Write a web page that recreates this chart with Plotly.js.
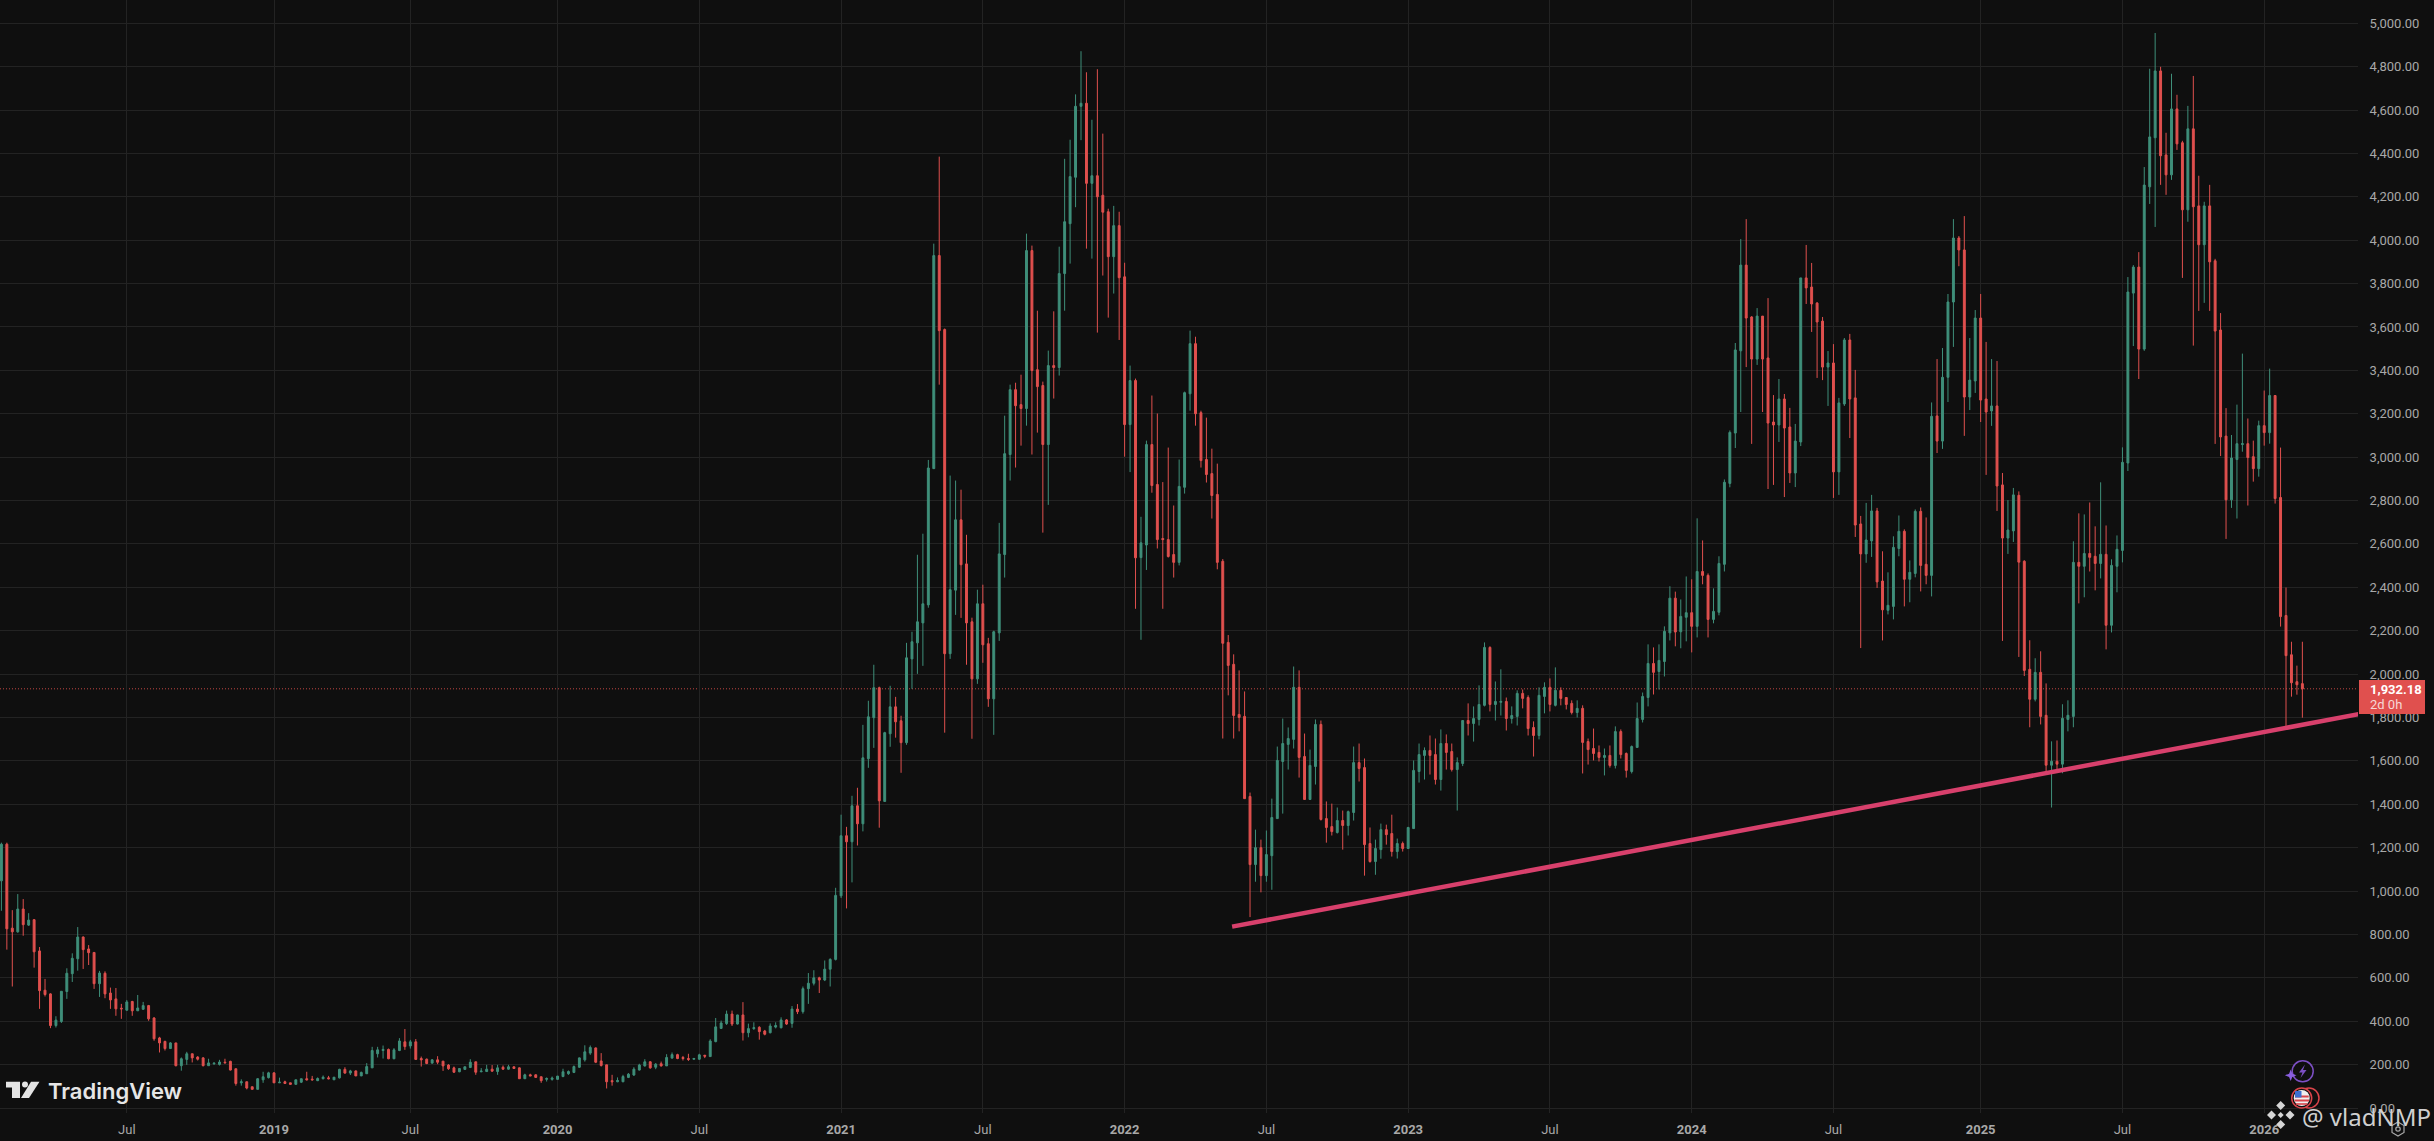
<!DOCTYPE html>
<html>
<head>
<meta charset="utf-8">
<script src="https://cdn.plot.ly/plotly-3.0.1.min.js"></script>
<style>html,body{margin:0;padding:0;background:#0f0f0f;overflow:hidden}#chart{width:2434px;height:1141px}</style>
</head>
<body>
<div id="chart"></div>
<script>
const firstWeek = '2018-01-22';
const openPrice = [
1047,1216,829,812,917,843,868,724,543,526,
380,399,537,619,688,788,733,717,573,621,
530,503,460,451,491,448,455,472,415,323,
307,274,300,195,224,250,235,231,195,204,
201,211,215,181,116,121,98,86,130,140,
162,116,121,116,109,119,135,133,126,135,
139,130,139,178,161,171,148,158,185,250,
265,270,227,265,305,286,305,228,225,207,
222,216,198,185,167,178,187,213,167,168,
179,168,188,179,190,185,135,153,153,144,
132,132,132,145,158,164,188,222,253,277,
217,199,126,121,121,141,152,175,194,213,
188,204,194,230,246,233,228,225,225,243,
237,306,367,389,433,387,429,347,366,372,
355,347,373,370,406,390,456,444,550,575,
600,590,640,685,978,1255,1227,1393,1310,1610,
1799,1937,1413,1725,1849,1785,1684,2070,2144,2236,
2319,2947,3929,3588,2094,2387,2711,2508,2241,1978,
2324,2140,1886,2190,2551,3012,3311,3242,3224,3952,
3403,3330,3058,3422,3413,3846,4076,4290,4617,4631,
4262,4297,4207,4131,3924,4067,3831,3150,3353,2537,
2595,3058,2874,2625,2620,2551,2515,2861,3292,3523,
3205,2989,2924,2828,2520,2146,2045,1814,1805,1436,
1122,1200,1071,1163,1334,1597,1676,1699,1939,1620,
1422,1574,1768,1334,1297,1270,1325,1302,1362,1592,
1569,1219,1136,1191,1283,1265,1182,1219,1196,1288,
1551,1625,1648,1629,1514,1680,1643,1560,1588,1786,
1772,1791,1856,2123,1860,1870,1874,1795,1805,1911,
1892,1754,1717,1897,1939,1856,1925,1892,1865,1823,
1842,1689,1657,1639,1616,1625,1579,1735,1634,1551,
1662,1791,1892,2049,2012,2058,2190,2350,2195,2262,
2283,2220,2473,2455,2252,2285,2506,2879,3111,3490,
3885,3646,3452,3650,3457,3162,3148,3268,3139,2927,
3070,3826,3784,3710,3627,3415,3434,2932,3245,3540,
3273,2692,2554,2614,2752,2429,2294,2312,2579,2658,
2437,2464,2750,2506,2455,3190,3074,3368,3715,4010,
3955,3277,3351,3641,3268,3213,3236,2872,2627,2660,
2824,2520,2022,1884,2008,1810,1580,1598,1585,1791,
1805,2515,2497,2556,2543,2510,2552,2225,2497,2570,
2973,3756,3876,3498,4246,4472,4780,4393,4301,4605,
4449,4140,4513,4158,3979,4158,3905,3586,3097,2803,
2989,3058,3062,3002,2947,3145,3113,3284,2814,2270,2089,1965,1956];
const highPrice = [
1223,1223,912,986,963,898,871,742,595,529,
423,538,644,713,834,791,751,717,632,630,
555,553,480,498,494,521,489,475,419,328,
310,304,300,233,259,250,239,235,227,208,
222,227,218,181,132,121,98,138,167,167,
164,140,126,116,130,135,167,148,141,150,
148,143,181,188,176,173,168,207,282,282,
288,274,276,322,364,314,318,237,228,225,
239,216,202,191,182,191,225,213,184,199,
198,199,196,199,191,187,158,158,155,145,
141,145,148,181,173,196,233,289,288,279,
253,199,153,141,153,161,188,204,225,216,
207,214,248,256,250,240,250,231,250,245,
317,415,403,449,449,430,488,389,395,377,
360,390,395,418,410,470,479,560,622,635,
605,680,690,1015,1352,1296,1439,1476,1766,1877,
2043,1942,1734,1946,1895,1808,2144,2195,2550,2647,
2987,3984,4385,3593,2915,2892,2850,2642,2260,2389,
2412,2167,2200,2697,3191,3334,3343,3380,4030,3975,
3675,3348,3491,3672,3970,4375,4463,4672,4871,4774,
4555,4788,4491,4145,4158,4131,3896,3422,3362,2725,
3076,3284,3201,2885,3044,2777,2989,3302,3583,3555,
3214,3182,3039,2970,2530,2180,2091,2017,1920,1454,
1283,1237,1279,1426,1666,1795,1754,2035,2017,1726,
1652,1791,1786,1413,1403,1385,1371,1371,1666,1680,
1611,1293,1237,1311,1306,1352,1242,1228,1296,1602,
1680,1662,1717,1703,1745,1722,1680,1616,1786,1865,
1851,1948,2146,2128,1966,2022,1892,1851,1925,1929,
1902,1782,1939,1962,1980,2031,1939,1892,1879,1879,
1856,1703,1749,1671,1657,1671,1759,1745,1639,1671,
1869,1915,2137,2123,2137,2220,2405,2380,2344,2450,
2437,2718,2616,2464,2395,2543,2897,3123,3526,4005,
4097,3650,3687,3650,3733,3286,3360,3291,3227,3153,
3826,3978,3895,3715,3646,3489,3521,3273,3549,3568,
3402,2729,2789,2826,2766,2566,2469,2635,2731,2667,
2524,2759,2768,2722,3252,3452,3503,3752,4097,4019,
4111,3549,3678,3752,3531,3452,3443,2927,2802,2858,
2842,2525,2156,2073,2105,1957,1690,1694,1861,1879,
2612,2741,2736,2791,2681,2884,2685,2529,2639,3045,
3830,3885,3945,4337,4790,4955,4799,4495,4767,4670,
4458,4619,4757,4297,4177,4255,3914,3664,3226,3102,
3242,3477,3178,3076,3168,3307,3408,3284,3044,2399,2149,2039,2149];
const lowPrice = [
909,730,560,808,794,839,647,457,514,368,
371,392,503,581,633,641,659,549,512,506,
457,425,411,448,425,448,452,402,310,256,
265,273,192,172,199,210,219,192,195,199,
196,208,173,103,103,86,86,86,116,136,
116,116,113,109,109,115,127,126,124,132,
132,130,136,158,152,147,147,158,185,233,
228,225,225,262,268,274,222,191,202,204,
202,171,176,162,165,176,184,153,165,168,
167,153,176,176,181,135,135,147,139,116,
122,126,130,142,153,161,185,214,245,207,
191,90,103,119,119,138,148,173,191,181,
179,191,194,227,225,219,217,222,222,230,
237,303,364,383,378,385,311,326,360,315,
335,344,367,367,383,370,433,435,480,565,
530,585,560,680,968,920,1040,1210,1275,1568,
1660,1292,1413,1665,1707,1545,1674,1932,2001,2038,
2306,2947,3334,1730,2070,2273,2259,2043,1702,1955,
2052,1849,1720,2153,2445,2892,2952,3053,3145,3012,
3113,2652,2780,3270,3376,3675,3892,4152,4461,3961,
3915,3574,3837,3643,3754,3540,3002,2931,2301,2158,
2480,2836,2579,2301,2537,2445,2501,2832,3214,3145,
2952,2883,2717,2483,1703,1902,1703,1736,1426,880,
1043,994,1043,1006,1334,1357,1560,1657,1523,1422,
1422,1491,1325,1223,1256,1265,1191,1256,1325,1505,
1071,1131,1075,1149,1214,1159,1150,1182,1196,1288,
1500,1514,1537,1491,1463,1560,1551,1371,1576,1717,
1689,1763,1851,1828,1786,1809,1740,1772,1763,1842,
1717,1620,1699,1819,1828,1851,1856,1837,1814,1800,
1542,1583,1602,1597,1533,1569,1565,1611,1523,1542,
1662,1777,1851,1906,1929,1989,2155,2128,2119,2151,
2100,2169,2414,2169,2234,2271,2473,2861,3042,3208,
3415,3061,3425,3208,2853,2872,3070,2816,2881,2862,
3051,3706,3577,3365,3355,3236,2812,2826,3236,3088,
2632,2120,2513,2540,2397,2155,2275,2252,2543,2312,
2331,2446,2381,2414,2358,3019,3038,3254,3508,3880,
3098,3217,3296,3162,2918,3144,2752,2153,2554,2609,
2079,1991,1755,1874,1768,1546,1385,1555,1543,1736,
1755,2326,2354,2473,2386,2441,2114,2192,2377,2515,
2936,3512,3360,3490,4167,4061,4255,4209,4278,4416,
3826,4085,3514,3674,3711,3674,3061,3005,2623,2766,
2717,3025,2777,2887,2910,3053,3062,2786,2219,1751,1896,1905,1799];
const closePrice = [
1216,826,812,917,845,866,720,541,523,380,
405,538,621,690,788,730,716,573,622,526,
498,457,457,489,448,461,472,411,319,300,
274,300,195,227,250,231,225,195,208,207,
212,208,175,113,121,92,86,135,144,162,
116,119,113,109,130,135,130,130,136,142,
135,142,178,161,171,148,164,191,265,268,
270,227,268,309,283,305,224,222,205,222,
211,194,181,165,182,190,211,165,170,179,
170,185,179,190,182,135,153,148,141,126,
136,138,147,167,168,191,231,259,279,211,
196,121,121,127,145,156,179,198,213,185,
202,194,233,246,228,228,224,228,245,239,
309,374,392,433,387,429,347,366,370,352,
340,378,380,406,387,456,444,550,575,600,
590,640,685,980,1255,1227,1393,1310,1614,1803,
1937,1416,1730,1849,1780,1684,2075,2149,2241,2324,
2950,3929,3583,2094,2389,2711,2504,2236,1978,2324,
2135,1886,2195,2554,3016,3311,3237,3224,3952,3399,
3325,3058,3422,3413,3846,4085,4293,4617,4631,4262,
4297,4200,4129,3924,4067,3827,3150,3353,2536,2605,
3058,2869,2620,2620,2542,2515,2865,3297,3523,3200,
2984,2920,2823,2515,2142,2040,1809,1800,1426,1122,
1200,1071,1168,1339,1602,1680,1703,1939,1616,1422,
1579,1768,1330,1293,1274,1325,1302,1366,1592,1565,
1214,1136,1196,1283,1260,1182,1219,1196,1293,1556,
1629,1648,1625,1514,1680,1639,1560,1592,1786,1772,
1795,1860,2123,1860,1874,1874,1795,1809,1911,1888,
1749,1717,1902,1939,1860,1925,1888,1860,1823,1842,
1685,1652,1634,1616,1625,1579,1735,1629,1556,1666,
1795,1897,2049,2008,2063,2197,2350,2194,2266,2283,
2220,2473,2455,2252,2289,2510,2884,3114,3494,3885,
3641,3452,3650,3452,3157,3148,3268,3134,2927,3074,
3826,3780,3706,3623,3415,3434,2932,3250,3540,3268,
2687,2554,2618,2752,2425,2296,2317,2584,2658,2437,
2469,2750,2501,2455,3188,3074,3368,3715,4010,3955,
3277,3355,3641,3263,3208,3236,2867,2627,2664,2826,
2516,2017,1884,2008,1805,1580,1598,1585,1796,1810,
2515,2497,2556,2538,2510,2552,2225,2501,2575,2976,
3761,3876,3498,4254,4476,4780,4389,4301,4605,4444,
4140,4513,4154,3979,4158,3900,3581,3093,2803,2996,
3062,3062,2998,2947,3145,3113,3284,2809,2265,2085,1960,1951,1932.18];
const trendDates = ['2022-05-21','2026-05-06'];
const trendPrices = [836,1815];
const xTickDates = ['2018-07-02','2019-01-07','2019-07-01','2020-01-06','2020-07-06','2021-01-04','2021-07-05','2022-01-03','2022-07-04','2023-01-02','2023-07-03','2024-01-01','2024-07-01','2025-01-06','2025-07-07','2026-01-05'];
const xTickLabels = ['Jul','<b>2019</b>','Jul','<b>2020</b>','Jul','<b>2021</b>','Jul','<b>2022</b>','Jul','<b>2023</b>','Jul','<b>2024</b>','Jul','<b>2025</b>','Jul','<b>2026</b>'];
const yTicks = [0,200,400,600,800,1000,1200,1400,1600,1800,2000,2200,2400,2600,2800,3000,3200,3400,3600,3800,4000,4200,4400,4600,4800,5000];

const weekDates = closePrice.map((_, k) => new Date(Date.parse(firstWeek) + k * 7 * 864e5).toISOString().slice(0, 10));
const lastPrice = closePrice[closePrice.length - 1];

const W = 2358, H = 1113;
const px = x => x / W, py = y => 1 - y / H;
const UP = '#3f8f7a', DOWN = '#e0504e', BG = '#0f0f0f';

const box = (x0, y0, x1, y1, fill, line) => ({type:'rect', xref:'paper', yref:'paper', x0:px(x0), x1:px(x1), y0:py(y0), y1:py(y1), fillcolor:fill, line:line||{width:0}});
const ring = (cx, cy, r, fill, color, w) => ({type:'circle', xref:'paper', yref:'paper', x0:px(cx-r), x1:px(cx+r), y0:py(cy-r), y1:py(cy+r), fillcolor:fill, line:{color:color, width:w}});
const poly = (pts, fill, color, w) => ({type:'path', xref:'paper', yref:'paper',
  path:'M'+pts.map(p => px(p[0])+','+py(p[1])).join(' L')+' Z', fillcolor:fill, line: color ? {color:color, width:w} : {width:0}});

const diamond = (cx, cy, r, fill) => poly([[cx,cy-r],[cx+r,cy],[cx,cy+r],[cx-r,cy]], fill);

const shapes = [
  {type:'line', layer:'below', xref:'paper', yref:'y', x0:0, x1:1, y0:lastPrice, y1:lastPrice, opacity:0.85, line:{color:DOWN, width:1, dash:'1px,2px'}},
  // price label
  box(2359, 680, 2425, 714, '#e0504e'),
  // TradingView logo
  poly([[6,1081.7],[20,1081.7],[20,1098],[12,1098],[12,1087.5],[6,1087.5]], '#e4e4e4'),
  ring(25,1084.5,3,'#e4e4e4','#e4e4e4',0),
  poly([[31,1081.7],[39.5,1081.7],[29,1098],[21,1098]], '#e4e4e4'),
  // bolt badge
  ring(2302.7,1071.3,10.5,BG,'#7c4fc4',1.5),
  poly([[2305,1064.5],[2299,1072.5],[2302.5,1072.5],[2300.5,1078],[2306.5,1070],[2303,1070]], '#7c4fc4'),
  poly([[2290.7,1069.5],[2292.3,1073.7],[2296.5,1075.3],[2292.3,1076.9],[2290.7,1081],[2289.1,1076.9],[2284.9,1075.3],[2289.1,1073.7]], '#8a5fe0'),
  // flag badge
  ring(2309,1098,10,BG,'#d9444a',1.5),
  ring(2301.7,1098,10,BG,'#d9444a',1.5),
  ring(2301.7,1098,8,'#efefef','#efefef',0),
  box(2295,1095.5,2308.7,1097.5,'#d9444a'),
  box(2294.5,1099.5,2309,1101.5,'#d9444a'),
  box(2296,1103.2,2307.4,1104.8,'#d9444a'),
  box(2295,1091,2301.5,1097.5,'#3d6fd0'),
  // Binance logo
  diamond(2280.7,1105.5,4.5,'#d6d6d6'),
  diamond(2271.5,1115,4.5,'#d6d6d6'),
  diamond(2290,1115,4.5,'#d6d6d6'),
  diamond(2280.7,1124.5,4.5,'#d6d6d6'),
  diamond(2280.7,1115,3,'#d6d6d6'),
  // settings hexagon
  poly([[2398,1122],[2404,1125.5],[2404,1132.5],[2398,1136],[2392,1132.5],[2392,1125.5]], 'rgba(0,0,0,0)', '#a8a8a8', 1.2),
  ring(2398,1129,2.2,'rgba(0,0,0,0)','#a8a8a8',1.2)
];

const note = (text, x, y, size, color, anchor, extra) => Object.assign({
  text, xref:'paper', yref:'paper', x:px(x), y:py(y), xanchor:anchor||'left', yanchor:'middle', showarrow:false,
  font:{family:'Roboto, Liberation Sans, sans-serif', size, color}
}, extra||{});

const annotations = [
  note('<b>1,932.18</b>', 2368, 689, 13, '#ffffff'),
  note('2d 0h', 2368, 704, 13, '#f6d8d6'),
  note('TradingView', 46, 1090.5, 22, '#e6e6e6', 'left', {font:{family:'Inter, sans-serif', size:22, color:'#e6e6e6', weight:600}}),
  note('@ vladNMP', 2300, 1116, 24, '#cfcfcf', 'left', {font:{family:'Noto Sans, sans-serif', size:24, color:'#cfcfcf'}})
];

const traces = [
  {type:'candlestick', x:weekDates, open:openPrice, high:highPrice, low:lowPrice, close:closePrice,
   whiskerwidth:0,
   increasing:{line:{color:UP, width:1}, fillcolor:UP},
   decreasing:{line:{color:DOWN, width:1}, fillcolor:DOWN},
   showlegend:false, hoverinfo:'skip'},
  {type:'scatter', mode:'lines', x:trendDates, y:trendPrices, line:{color:'#d8406c', width:4.5}, showlegend:false, hoverinfo:'skip'}
];

const layout = {
  width:2434, height:1141,
  margin:{l:0, r:76, t:0, b:28, pad:0},
  paper_bgcolor:BG, plot_bgcolor:BG,
  showlegend:false,
  boxgap:0.5,
  font:{family:'Roboto, Liberation Sans, sans-serif'},
  xaxis:{type:'date', range:['2018-01-20 05:00','2026-05-05 10:00'], rangeslider:{visible:false},
    tickmode:'array', tickvals:xTickDates, ticktext:xTickLabels, tickangle:0,
    showgrid:true, gridcolor:'#232323', gridwidth:1, zeroline:false, showline:false,
    ticks:'outside', ticklen:4, tickcolor:BG, tickfont:{size:13, color:'#a8a8a8'}},
  yaxis:{side:'right', range:[-23,5107], tickmode:'array', tickvals:yTicks, tickformat:',.2f',
    showgrid:true, gridcolor:'#232323', gridwidth:1, zeroline:false, showline:false,
    ticks:'outside', ticklen:8, tickcolor:BG, tickfont:{size:13, color:'#a8a8a8'}},
  shapes, annotations
};

Plotly.newPlot('chart', traces, layout, {staticPlot:true, displayModeBar:false});
</script>
</body>
</html>
